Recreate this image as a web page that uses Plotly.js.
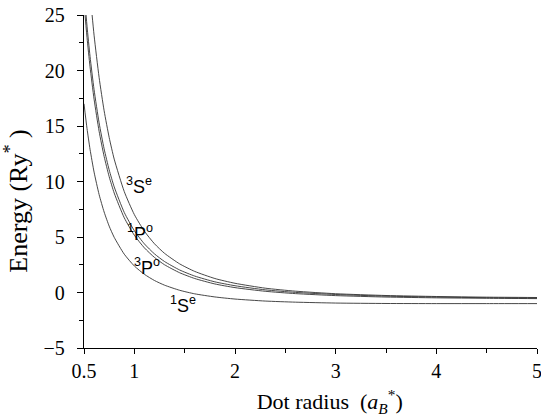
<!DOCTYPE html>
<html>
<head>
<meta charset="utf-8">
<script src="https://cdn.plot.ly/plotly-3.0.1.min.js"></script>
<style>html,body{margin:0;padding:0;background:#fff;}#chart{width:541px;height:419px;}</style>
</head>
<body>
<div id="chart"></div>
<script>
// Dot radius (a_B*)
const radius = [0.5, 0.53, 0.56, 0.6, 0.65, 0.7, 0.75, 0.8, 0.9, 1.0, 1.1, 1.2, 1.3, 1.45, 1.6, 1.8, 2.0, 2.3, 2.6, 3.0, 3.5, 4.0, 4.5, 5.0];
// Energies (Ry*) for each state
const energy3Se = [34.65, 30.50, 27.02, 23.18, 19.38, 16.37, 13.97, 12.02, 9.09, 7.02, 5.52, 4.39, 3.53, 2.58, 1.90, 1.26, 0.83, 0.39, 0.12, -0.11, -0.27, -0.36, -0.42, -0.45];
const energy1Po = [27.22, 23.99, 21.27, 18.27, 15.29, 12.94, 11.05, 9.52, 7.21, 5.57, 4.38, 3.48, 2.79, 2.03, 1.48, 0.96, 0.61, 0.24, 0.01, -0.18, -0.33, -0.41, -0.47, -0.50];
const energy3Po = [26.11, 22.97, 20.33, 17.42, 14.53, 12.26, 10.44, 8.96, 6.73, 5.16, 4.02, 3.16, 2.50, 1.78, 1.26, 0.77, 0.44, 0.11, -0.10, -0.28, -0.41, -0.48, -0.52, -0.55];
const energy1Se = [17.00, 14.77, 12.90, 10.85, 8.83, 7.25, 5.98, 4.97, 3.45, 2.39, 1.64, 1.08, 0.66, 0.20, -0.12, -0.40, -0.59, -0.77, -0.87, -0.95, -0.99, -1.00, -1.00, -1.00];

const seriesNames = ['3Se', '1Po', '3Po', '1Se'];
const seriesValues = [energy3Se, energy1Po, energy3Po, energy1Se];
const stateLabels = ['<sup>3</sup>S<sup>e</sup>', '<sup>1</sup>P<sup>o</sup>', '<sup>3</sup>P<sup>o</sup>', '<sup>1</sup>S<sup>e</sup>'];
const labelX = [1.05, 1.06, 1.13, 1.48];
const labelY = [9.6, 5.4, 2.3, -1.1];

const xTickVals = [0.5, 1, 2, 3, 4, 5];
const xTickText = ['0.5', '1', '2', '3', '4', '5'];
const xMinorVals = [1.5, 2.5, 3.5, 4.5];
const yTickVals = [-5, 0, 5, 10, 15, 20, 25];
const yTickText = ['\u22125', '0', '5', '10', '15', '20', '25'];
const yMinorVals = [-2.5, 2.5, 7.5, 12.5, 17.5, 22.5];

const traces = seriesValues.map((vals, i) => ({
  x: radius, y: vals, name: seriesNames[i], type: 'scatter', mode: 'lines',
  line: {color: '#333333', width: 0.9, shape: 'spline', smoothing: 0.6},
  hoverinfo: 'skip'
}));

const serif = 'Liberation Serif, DejaVu Serif, serif';
const layout = {
  width: 541, height: 419,
  margin: {l: 84, r: 4, t: 15, b: 71},
  paper_bgcolor: '#fff', plot_bgcolor: '#fff',
  showlegend: false,
  xaxis: {
    range: [0.5, 5], tickmode: 'array', tickvals: xTickVals, ticktext: xTickText,
    ticks: 'outside', ticklen: 5, tickwidth: 1, tickcolor: '#000',
    minor: {tickmode: 'array', tickvals: xMinorVals, ticks: 'outside', ticklen: 4, tickcolor: '#000', showgrid: false},
    showline: true, linecolor: '#000', linewidth: 1.3, showgrid: false, zeroline: false,
    ticklabelstandoff: 0, ticklabeloverflow: 'allow',
    tickfont: {family: serif, size: 20, color: '#000'},
    title: {text: '&nbsp;&nbsp;&nbsp;&nbsp;&nbsp;&nbsp;&nbsp;Dot radius  (<i>a</i><sub><i>B</i></sub><sup>*</sup>)', font: {family: serif, size: 22, color: '#000'}, standoff: 12}
  },
  yaxis: {
    range: [-5, 25], tickmode: 'array', tickvals: yTickVals, ticktext: yTickText,
    ticks: 'outside', ticklen: 6, tickwidth: 1, tickcolor: '#000',
    minor: {tickmode: 'array', tickvals: yMinorVals, ticks: 'outside', ticklen: 4, tickcolor: '#000', showgrid: false},
    showline: true, linecolor: '#000', linewidth: 1.3, showgrid: false, zeroline: false,
    ticklabelstandoff: 8, ticklabeloverflow: 'allow',
    tickfont: {family: serif, size: 20, color: '#000'},
    title: {text: 'Energy (Ry<sup>*</sup> )&nbsp;&nbsp;&nbsp;&nbsp;&nbsp;&nbsp;', font: {family: serif, size: 26, color: '#000'}, standoff: 8}
  },
  annotations: stateLabels.map((t, i) => ({
    x: labelX[i], y: labelY[i], xref: 'x', yref: 'y', text: t, showarrow: false,
    font: {family: 'Liberation Sans, Arial, sans-serif', size: 18, color: '#000'}
  }))
};

Plotly.newPlot('chart', traces, layout, {displayModeBar: false, staticPlot: true});
</script>
</body>
</html>
